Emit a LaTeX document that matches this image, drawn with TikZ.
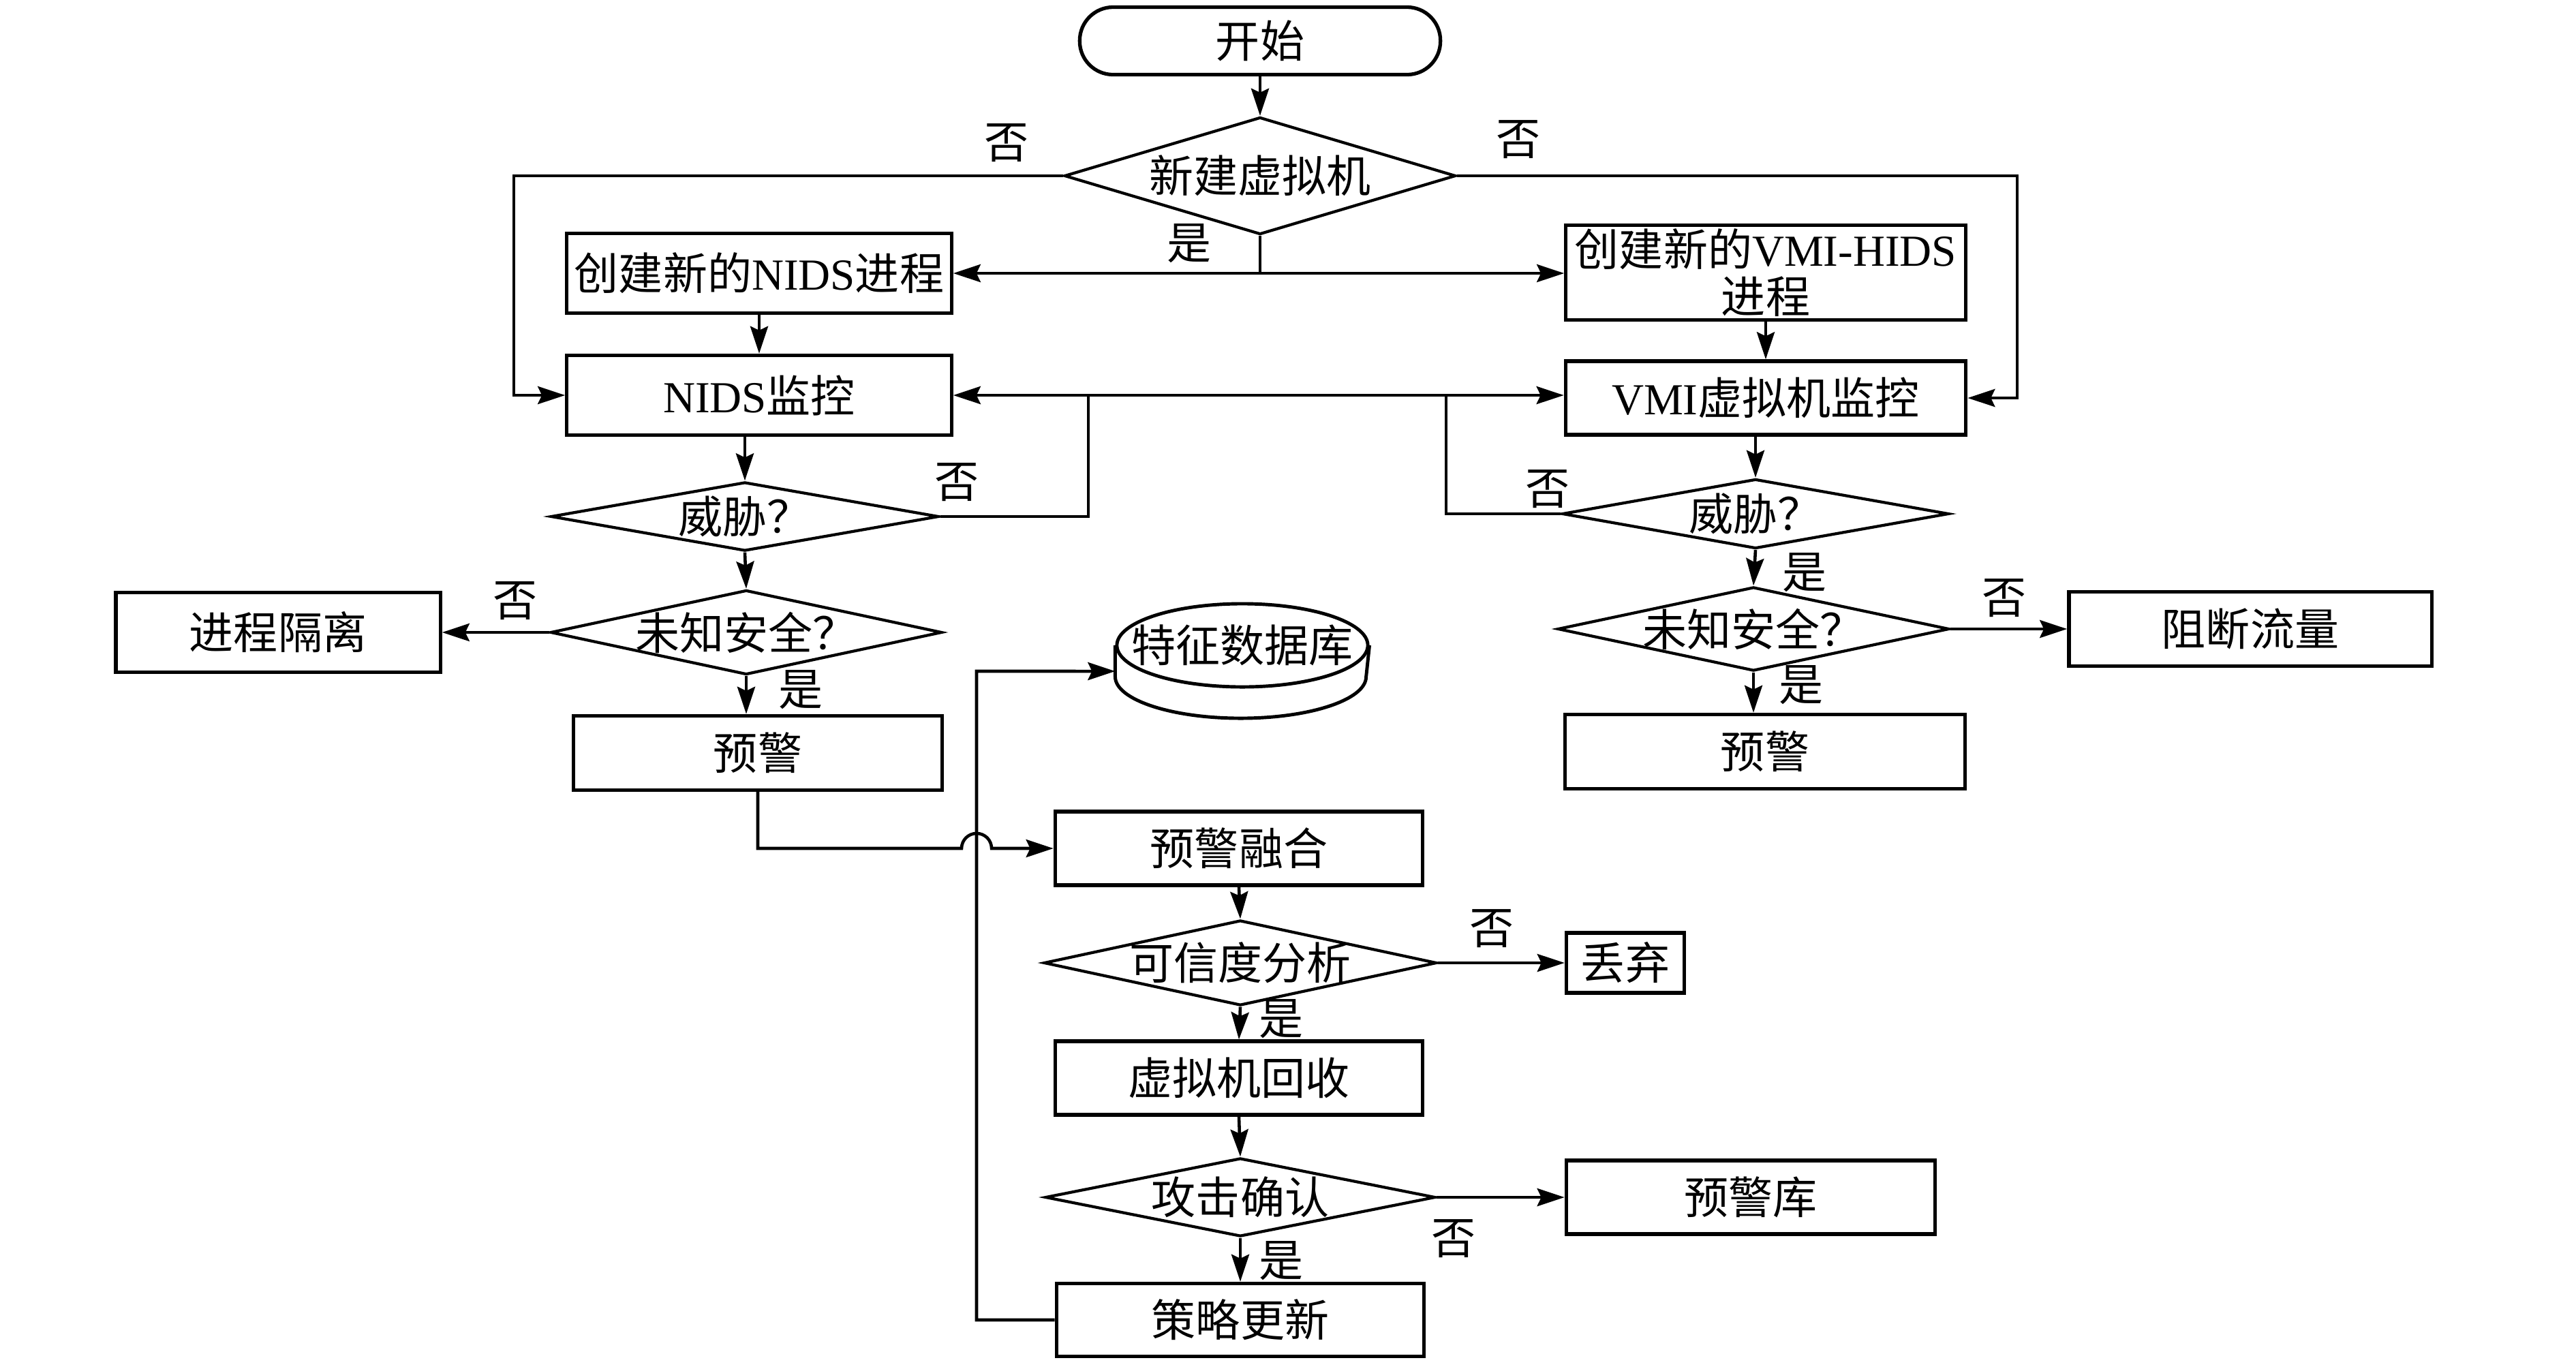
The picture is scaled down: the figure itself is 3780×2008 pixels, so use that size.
\documentclass[tikz,border=0pt]{standalone}
\usepackage{fontspec}
\setmainfont{Liberation Serif}
\newfontfamily\cjk{Noto Sans CJK SC}
\usetikzlibrary{shapes.geometric,arrows.meta}

\newcommand{\eng}[1]{{\rmfamily #1}}
\newcommand{\dtext}[1]{\makebox[0pt]{#1}}

\begin{document}
\begin{tikzpicture}[x=0.01cm, y=-0.01cm,
                    every node/.style={font=\cjk\fontsize{18.5}{19}\selectfont,
                                       inner sep=0pt},
                    box/.style={draw, rectangle, line width=1.5pt},
                    term/.style={draw, rectangle, rounded corners=4.9mm,
                                 line width=1.5pt},
                    dec/.style={draw, diamond, line width=1.2pt},
                    store/.style={draw, ellipse, line width=1.4pt},
                    lbl/.style={},
                    line/.style={line width=1.3pt},
                    arr/.style={line width=1.3pt,
                                -{Stealth[length=4mm, width=2.6mm, inset=0.6mm]}},
                    both/.style={line width=1.3pt,
                                 {Stealth[length=4mm, width=2.6mm, inset=0.6mm]}-{Stealth[length=4mm, width=2.6mm, inset=0.6mm]}}]
    \useasboundingbox (0,0) rectangle (3780,2008);

    % top part
    \node[term, minimum width=5.29cm, minimum height=0.99cm] (start) at (1849,60) {开始};
    \node[dec, minimum width=5.74cm, minimum height=1.72cm] (newvm) at (1849,258) {\dtext{新建虚拟机}};
    \node[box, minimum width=5.64cm, minimum height=1.17cm] (nidsnew) at (1114,401) {创建新的\eng{NIDS}进程};
    \node[box, align=center, font=\cjk\fontsize{18.5}{19.5}\selectfont,
          minimum width=5.86cm, minimum height=1.39cm] (vmnew) at (2591,400) {创建新的\eng{VMI-HIDS}\\进程};
    \node[box, minimum width=5.64cm, minimum height=1.17cm] (nidsmon) at (1114,580) {\eng{NIDS}监控};
    \node[box, minimum width=5.87cm, minimum height=1.08cm] (vmmon) at (2591,584) {\eng{VMI}虚拟机监控};

    % NIDS side
    \node[dec, minimum width=5.69cm, minimum height=1.01cm] (threat1) at (1093,758) {\dtext{威胁？}};
    \node[dec, minimum width=5.74cm, minimum height=1.24cm] (unk1) at (1095,928) {\dtext{未知安全？}};
    \node[box, minimum width=4.76cm, minimum height=1.17cm] (isolate) at (408,928) {进程隔离};
    \node[box, minimum width=5.40cm, minimum height=1.09cm] (warn1) at (1112,1105) {预警};

    % VMI side
    \node[dec, minimum width=5.67cm, minimum height=1.02cm] (threat2) at (2576,754) {\dtext{威胁？}};
    \node[dec, minimum width=5.74cm, minimum height=1.23cm] (unk2) at (2573,923) {\dtext{未知安全？}};
    \node[box, minimum width=5.32cm, minimum height=1.09cm] (block) at (3302,923) {阻断流量};
    \node[box, minimum width=5.87cm, minimum height=1.09cm] (warn2) at (2590,1103) {预警};

    % fusion part
    \node[store, minimum width=3.68cm, minimum height=1.22cm] (db) at (1823,947) {\dtext{特征数据库}};
    \node[box, minimum width=5.39cm, minimum height=1.08cm] (fuse) at (1818,1245) {预警融合};
    \node[dec, minimum width=5.76cm, minimum height=1.25cm] (trust) at (1820,1413) {\dtext{可信度分析}};
    \node[box, minimum width=1.73cm, minimum height=0.88cm] (drop) at (2385,1413) {丢弃};
    \node[box, minimum width=5.39cm, minimum height=1.08cm] (reclaim) at (1818,1582) {虚拟机回收};
    \node[dec, minimum width=5.72cm, minimum height=1.15cm] (attack) at (1820,1757) {\dtext{攻击确认}};
    \node[box, minimum width=5.41cm, minimum height=1.08cm] (alertdb) at (2569,1757) {预警库};
    \node[box, minimum width=5.39cm, minimum height=1.07cm] (update) at (1820,1937) {策略更新};

    % lower half of the database drum
    \draw[line width=1.4pt] (db.west) -- ++(0,46)
        arc[start angle=180, end angle=360, x radius=1.84cm, y radius=0.61cm] -- (db.east);

    % yes / no labels
    \node[lbl] (no1) at (1477,210) {否};
    \node[lbl] (no2) at (2228,205) {否};
    \node[lbl] (yes1) at (1745,357) {是};
    \node[lbl] (no3) at (1404,708) {否};
    \node[lbl] (no4) at (756,882) {否};
    \node[lbl] (yes2) at (1175,1012) {是};
    \node[lbl] (no5) at (2271,718) {否};
    \node[lbl] (yes3) at (2648,840) {是};
    \node[lbl] (no6) at (2941,878) {否};
    \node[lbl] (yes4) at (2643,1005) {是};
    \node[lbl] (no7) at (2189,1363) {否};
    \node[lbl] (yes5) at (1880,1495) {是};
    \node[lbl] (no8) at (2133,1818) {否};
    \node[lbl] (yes6) at (1880,1850) {是};

    \foreach \a/\b in {start.south/newvm.north,
                       nidsnew.south/nidsmon.north,
                       vmnew.south/vmmon.north,
                       threat1.north |- nidsmon.south/threat1.north,
                       threat1.south/unk1.north,
                       unk1.west/isolate.east,
                       unk1.south/unk1.south |- warn1.north,
                       threat2.north |- vmmon.south/threat2.north,
                       threat2.south/unk2.north,
                       unk2.east/block.west,
                       unk2.south/unk2.south |- warn2.north,
                       fuse.south/trust.north,
                       trust.east/drop.west,
                       trust.south/reclaim.north,
                       reclaim.south/attack.north,
                       attack.east/alertdb.west,
                       attack.south/update.north} {
        \draw[arr] (\a) -- (\b);
    }

    \coordinate (split) at (1849,401);
    \draw[line] (newvm.south) -- (split);
    \draw[arr] (split) -- (split -| nidsnew.east);
    \draw[arr] (split) -- (split -| vmnew.west);
    \draw[arr] (newvm.west) -- (754,258) |- (nidsmon.west);
    \draw[arr] (newvm.east) -- (2960,258) |- (vmmon.east);
    \draw[both] (nidsmon.east) -- (nidsmon.east -| vmmon.west);

    \coordinate (j1) at (1597,580);
    \coordinate (j2) at (2122,580);
    \draw[line] (threat1.east) -| (j1);
    \draw[line] (threat2.west) -| (j2);

    % alerts into fusion, with a hop over the feedback line
    \draw[arr] (warn1.south) |- (1411,1245)
        arc[start angle=180, end angle=0, radius=0.22cm] -- (fuse.west);
    \draw[arr] (update.west) -| (1433,985) -- ([yshift=-0.38cm]db.west);
\end{tikzpicture}
\end{document}
